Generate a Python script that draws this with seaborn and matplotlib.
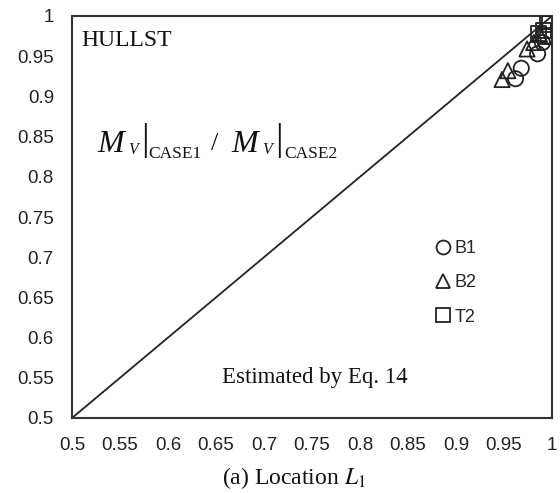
import matplotlib
matplotlib.use("Agg")
import matplotlib.pyplot as plt
import seaborn as sns
import pandas as pd
from matplotlib.lines import Line2D

# Data
b1_x = [0.962, 0.968, 0.985, 0.990, 0.995]
b1_y = [0.922, 0.935, 0.953, 0.967, 0.975]
b2_x = [0.948, 0.954, 0.974, 0.981, 0.987]
b2_y = [0.921, 0.932, 0.959, 0.967, 0.977]
t2_x = [0.986, 0.991, 0.993, 0.995, 0.997]
t2_y = [0.978, 0.982, 0.975, 0.990, 0.993]
line_x = [0.5, 1.0]
line_y = [0.5, 1.0]
x_ticks = [0.5, 0.55, 0.6, 0.65, 0.7, 0.75, 0.8, 0.85, 0.9, 0.95, 1.0]
x_ticklabels = ["0.5", "0.55", "0.6", "0.65", "0.7", "0.75", "0.8", "0.85", "0.9", "0.95", "1"]
y_ticks = x_ticks
y_ticklabels = x_ticklabels

W, H = 560, 493
sns.set_theme(style="white")
plt.rcParams["font.family"] = ["Liberation Sans", "DejaVu Sans"]
plt.rcParams["mathtext.fontset"] = "stix"

fig = plt.figure(figsize=(W/100, H/100), dpi=100)
ax = fig.add_axes([72/W, 1-418/H, 480/W, 402/H])

sns.lineplot(x=line_x, y=line_y, ax=ax, color="#222222", linewidth=1.3)

series = [("B1", b1_x, b1_y, "o"), ("B2", b2_x, b2_y, "^"), ("T2", t2_x, t2_y, "s")]
for name, xs, ys, m in series:
    df = pd.DataFrame({"x": xs, "y": ys})
    sns.scatterplot(data=df, x="x", y="y", ax=ax, marker=m, s=120,
                    facecolor="none", edgecolor="#222222", linewidth=1.3, zorder=3)

ax.set_xlim(0.5, 1.0)
ax.set_ylim(0.5, 1.0)
ax.set_xticks(x_ticks)
ax.set_xticklabels(x_ticklabels)
ax.set_yticks(y_ticks)
ax.set_yticklabels(y_ticklabels)
ax.tick_params(axis="both", direction="in", length=5, width=1, color="#999999",
               labelsize=13.5, labelcolor="#222222")
ax.tick_params(axis="x", pad=14)
ax.tick_params(axis="y", pad=13)
for s in ax.spines.values():
    s.set_color("#333333")
    s.set_linewidth(1.5)

ax.set_xlabel("(a) Location $L_1$", family="Liberation Serif", fontsize=17, labelpad=8,
              color="#111111", x=0.4625)
ax.set_ylabel("")

ax.text(0.02, 0.965, "HULLST", transform=ax.transAxes, family="Liberation Serif",
        fontsize=17, va="top", ha="left", color="#111111")
ax.text(0.505, 0.10, "Estimated by Eq. 14", transform=ax.transAxes, family="Liberation Serif",
        fontsize=16.5, va="center", ha="center", color="#111111")


def ptext(px, py, s, **kw):
    kw.setdefault("family", "Liberation Serif")
    kw.setdefault("color", "#111111")
    kw.setdefault("va", "baseline")
    fig.text(px/W, 1-py/H, s, **kw)


# M_V |_CASE1 / M_V |_CASE2
for dx, case in [(0, "CASE1"), (134, "CASE2")]:
    ptext(97+dx, 152, "M", fontsize=23, style="italic")
    ptext(128+dx, 154, "V", fontsize=11.5, style="italic")
    ptext(145+dx, 150, "|", fontsize=27, ha="center")
    ptext(148+dx + (2 if dx else 0), 158, case, fontsize=12.5)
ptext(211, 150, "/", fontsize=19)

handles = [Line2D([], [], marker=m, linestyle="none", markersize=10, markerfacecolor="none",
                  markeredgecolor="#222222", markeredgewidth=1.3, label=n) for n, _, _, m in series]
ax.legend(handles=handles, loc="upper left", bbox_to_anchor=(0.74, 0.46), frameon=False,
          fontsize=13, handletextpad=0.1, labelspacing=0.95, handlelength=1.0, borderaxespad=0)

fig.savefig("out.png", dpi=100)
